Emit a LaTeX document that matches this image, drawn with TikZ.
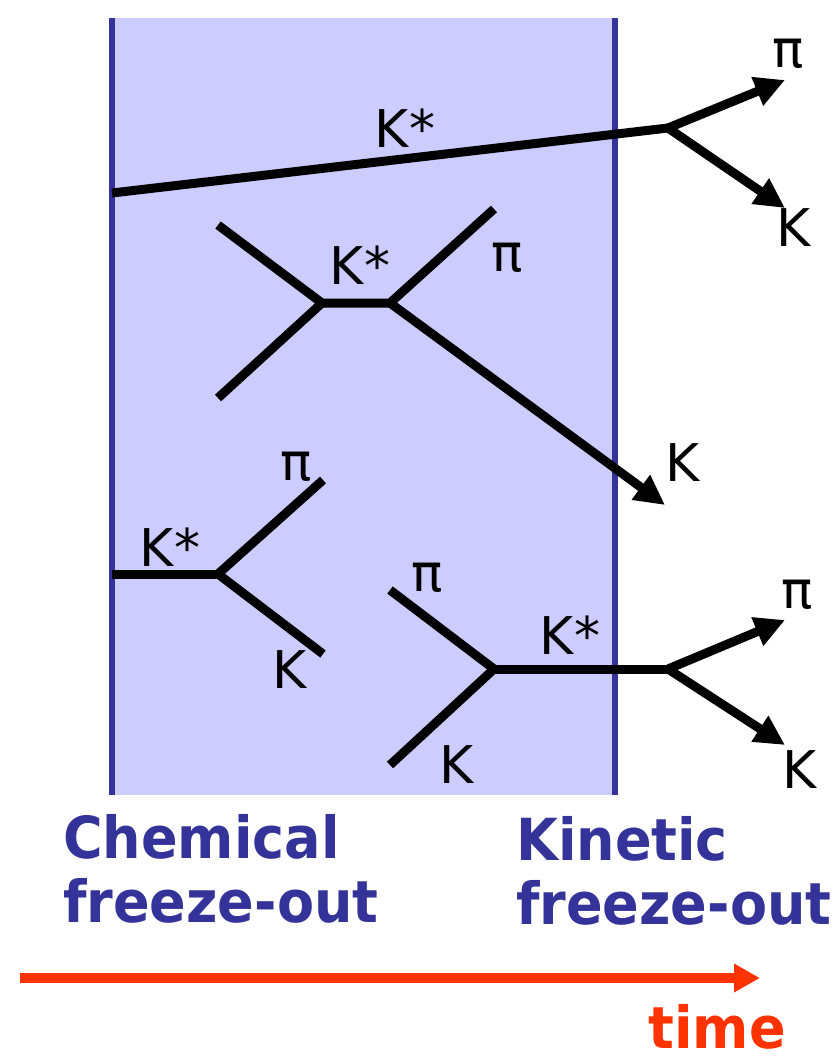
\documentclass[tikz,border=0pt]{standalone}
\usepackage{fontspec}
\setmainfont{DejaVu Sans}
\newfontfamily\condfont[FakeStretch=1.035]{DejaVu Sans Condensed}
\usetikzlibrary{arrows.meta}
\definecolor{bandblue}{HTML}{CCCCFF}
\definecolor{edgeblue}{HTML}{333399}
\definecolor{timered}{HTML}{FF3300}
\tikzset{
  track/.style={line width=9pt},
  decay/.style={track,-{Triangle[length=30pt,width=29pt]}},
  lbl/.style={font=\fontsize{52}{52}\selectfont,inner sep=0pt},
  stage/.style={font=\condfont\fontsize{58}{64}\selectfont\bfseries,text=edgeblue,align=left,anchor=north west,inner sep=0pt},
}
\begin{document}
\begin{tikzpicture}[x=1pt,y=-1pt]
\useasboundingbox (0,0) rectangle (833,1061);
% fireball between the two freeze-outs
\fill[bandblue] (112,18) rectangle (615,795);
\draw[edgeblue,line width=6.5pt] (112,18)--(112,795) (615,18)--(615,795);
% K* decaying after kinetic freeze-out
\coordinate (a0) at (112,193);
\coordinate (a1) at (668,128);
\coordinate (api) at (785,80);
\coordinate (ak) at (785,208);
\draw[track] (a0)--(a1);
\draw[decay] (a1)--(api);
\draw[decay] (a1)--(ak);
\node[lbl] (akst) at (405,128) {K*};
\node[lbl] (apil) at (788,54) {π};
\node[lbl] (akl) at (794,228) {K};
% regenerated K*
\coordinate (b0) at (322,303);
\coordinate (b1) at (390,303);
\coordinate (bin1) at (218,225);
\coordinate (bin2) at (218,398);
\coordinate (bpi) at (494,209);
\coordinate (bk) at (665,505);
\draw[track] (bin1)--(b0)--(bin2);
\draw[track] (b0)--(b1)--(bpi);
\draw[decay] (b1)--(bk);
\node[lbl] (bkst) at (360,265) {K*};
\node[lbl] (bpil) at (507,258) {π};
\node[lbl] (bkl) at (683,463) {K};
% K* decaying inside the fireball
\coordinate (c0) at (112,574);
\coordinate (c1) at (218,574);
\coordinate (cpi) at (323,480);
\coordinate (ck) at (323,654);
\draw[track] (c0)--(c1);
\draw[track] (cpi)--(c1)--(ck);
\node[lbl] (ckst) at (170,547) {K*};
\node[lbl] (cpil) at (296,467) {π};
\node[lbl] (ckl) at (290,670) {K};
% K* formed in the fireball, surviving kinetic freeze-out
\coordinate (din1) at (390,590);
\coordinate (din2) at (390,765);
\coordinate (d0) at (494,669);
\coordinate (d1) at (668,669);
\coordinate (dpi) at (785,620);
\coordinate (dk) at (785,745);
\draw[track] (din1)--(d0)--(din2);
\draw[track] (d0)--(d1);
\draw[decay] (d1)--(dpi);
\draw[decay] (d1)--(dk);
\node[lbl] (dpiin) at (427,578) {π};
\node[lbl] (dkin) at (457,765) {K};
\node[lbl] (dkst) at (570,635) {K*};
\node[lbl] (dpil) at (797,595) {π};
\node[lbl] (dkl) at (800,770) {K};
% stages
\node[stage] (chem) at (63,814) {Chemical\\freeze-out};
\node[stage] (kin) at (516,816) {Kinetic\\freeze-out};
% time axis
\coordinate (t0) at (20,978);
\coordinate (t1) at (760,978);
\draw[timered,line width=10pt,-{Triangle[length=26pt,width=27pt]}] (t0)--(t1);
\node[font=\condfont\fontsize{58}{58}\selectfont\bfseries,text=timered,anchor=base east,inner sep=0pt] (time) at (786,1048) {time};
\end{tikzpicture}
\end{document}
